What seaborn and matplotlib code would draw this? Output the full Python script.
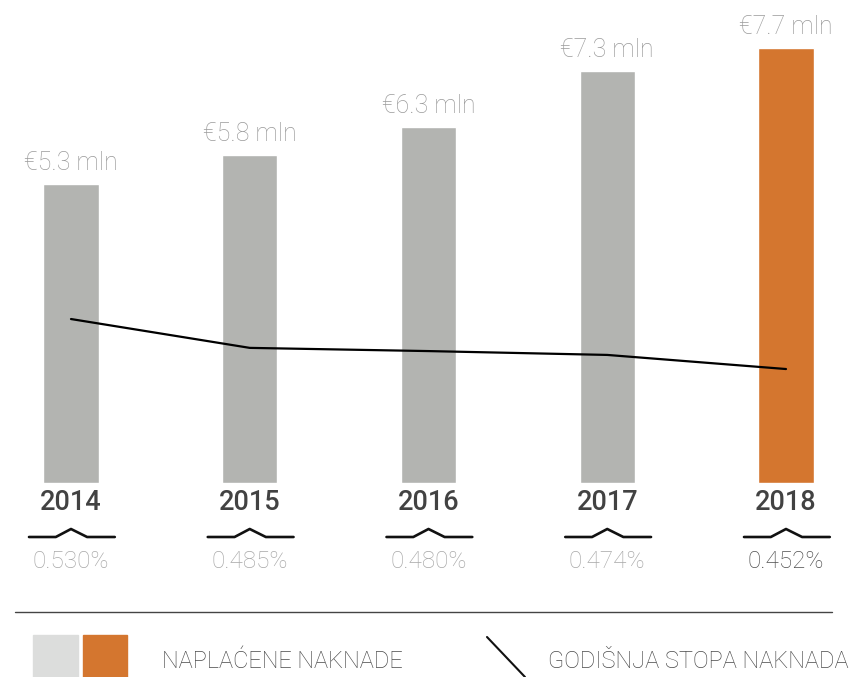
import numpy as np
import pandas as pd
import matplotlib
matplotlib.use("Agg")
import matplotlib.pyplot as plt
import matplotlib.transforms as mtransforms
from matplotlib.patches import Rectangle
from matplotlib.lines import Line2D
import seaborn as sns

years = ["2014", "2015", "2016", "2017", "2018"]
fees_mln = [5.3, 5.8, 6.3, 7.3, 7.7]
fee_labels = ["€5.3 mln", "€5.8 mln", "€6.3 mln", "€7.3 mln", "€7.7 mln"]
rate_pct = [0.530, 0.485, 0.480, 0.474, 0.452]
rate_labels = ["0.530%", "0.485%", "0.480%", "0.474%", "0.452%"]
legend_labels = ["NAPLAĆENE NAKNADE", "GODIŠNJA STOPA NAKNADA"]

GRAY = "#b3b4b1"
ORANGE = "#d4762f"
LIGHT = "#dcdddc"
bar_colors = [GRAY, GRAY, GRAY, GRAY, ORANGE]

sns.set_style("white")
plt.rcParams["font.family"] = ["Roboto", "DejaVu Sans"]

W, H = 850, 677
fig = plt.figure(figsize=(W / 100, H / 100), dpi=100)

def fy(px):
    return 1 - px / H

ax = fig.add_axes([0, fy(483), 1, 483 / H])
df = pd.DataFrame({"year": years, "fee": fees_mln})
sns.barplot(data=df, x="year", y="fee", hue="year", palette=bar_colors,
            width=0.31, legend=False, ax=ax, saturation=1)
ax.set_xlim(-71 / 178.75, (850 - 71) / 178.75)
ax.set_ylim(0, 483 / 56.5)
ax.axis("off")

for i, (v, lab) in enumerate(zip(fees_mln, fee_labels)):
    ax.annotate(lab, (i, v), xytext=(0, 9), textcoords="offset pixels",
                ha="center", va="bottom", fontsize=18, color="#9a9a9a",
                fontweight="light")

ax2 = ax.twinx()
ax2.set_position(ax.get_position())
ldf = pd.DataFrame({"x": np.arange(len(years)), "rate": rate_pct})
sns.lineplot(data=ldf, x="x", y="rate", color="black", lw=1.6, ax=ax2)
ax2.set_xlim(ax.get_xlim())
ax2.set_ylim(0.2742, 0.2742 + 483 / 641)
ax2.axis("off")

tr = mtransforms.blended_transform_factory(ax.transData, fig.transFigure)
for i, (y, r) in enumerate(zip(years, rate_labels)):
    fig.text(i, fy(503), y, transform=tr, ha="center", va="center",
             fontsize=19.5, color="#424242", fontweight="medium")
    xs = i + np.array([-0.235, -0.085, 0.0, 0.09, 0.245])
    ys = [fy(537), fy(537), fy(529), fy(537), fy(537)]
    fig.add_artist(Line2D(xs, ys, transform=tr, color="#111111", lw=1.9))
    fig.text(i, fy(561), r, transform=tr, ha="center", va="center",
             fontsize=17.5, color="#505050" if i == len(years) - 1 else "#a8a8a8",
             fontweight="light")

# separator
fig.add_artist(Line2D([15 / W, 832 / W], [fy(612), fy(612)], color="#444444", lw=1))

# legend
fig.add_artist(Rectangle((33 / W, 0), 45 / W, (677 - 635) / H, color=LIGHT,
                         transform=fig.transFigure))
fig.add_artist(Rectangle((83 / W, 0), 44 / W, (677 - 635) / H, color=ORANGE,
                         transform=fig.transFigure))
fig.text(162 / W, fy(661), legend_labels[0], ha="left", va="center",
         fontsize=17, color="#4a4a4a", fontweight="light")
fig.add_artist(Line2D([487 / W, 525 / W], [fy(637), fy(677)], color="#111111", lw=1.5))
fig.text(548 / W, fy(661), legend_labels[1], ha="left", va="center",
         fontsize=17, color="#4a4a4a", fontweight="light")

fig.savefig("out.png", dpi=100)
